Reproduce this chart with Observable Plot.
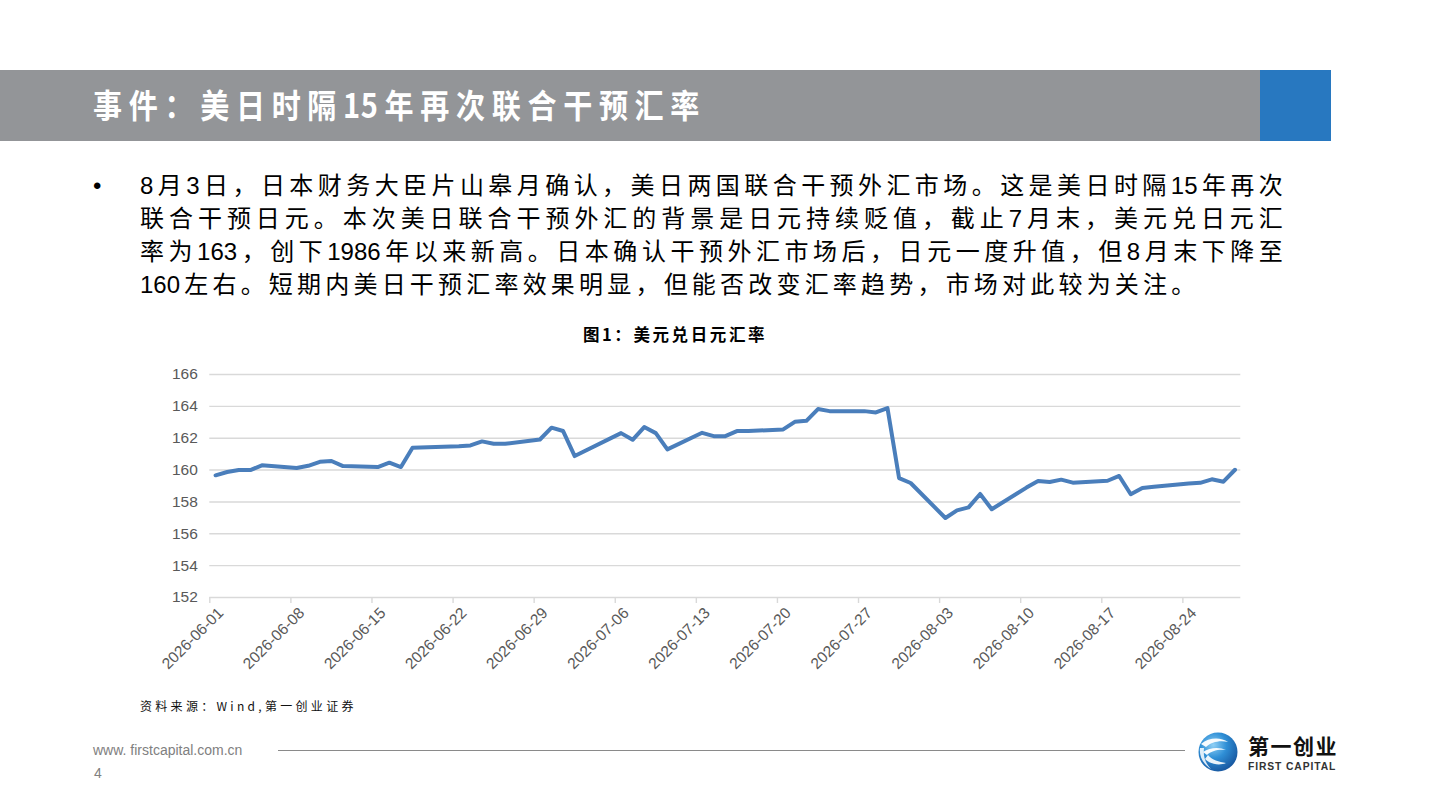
<!DOCTYPE html>
<html>
<head>
<meta charset="utf-8">
<script src="https://cdn.jsdelivr.net/npm/d3@7"></script>
<script src="https://cdn.jsdelivr.net/npm/@observablehq/plot@0.6"></script>
<style>
  html, body { margin:0; padding:0; background:#fff; }
  body { width:1440px; height:810px; position:relative; overflow:hidden; font-family:"Liberation Sans","Noto Sans CJK SC",sans-serif; }
  .abs { position:absolute; }
  .num { letter-spacing:0; }
  #bar { left:0; top:70px; width:1260px; height:71px; background:#939598; }
  #blue { left:1260px; top:70px; width:71px; height:71px; background:#2878C0; }
  #title { left:93px; top:83px; color:#fff; font-family:"Noto Sans CJK SC",sans-serif; font-weight:700; font-size:33px; line-height:42px; letter-spacing:7.6px; white-space:nowrap; transform:scaleX(0.88); transform-origin:left center; }
  #title .num { letter-spacing:0.5px; }
  #bullet { left:93px; top:169px; font-size:24px; line-height:33px; color:#000; }
  #body { left:140px; top:169px; width:1147px; font-family:"Liberation Sans","Noto Sans CJK SC",sans-serif; font-size:24px; line-height:33px; letter-spacing:4.2px; color:#000; }
  #body div { white-space:nowrap; }
  #body div.j { text-align:justify; text-align-last:justify; white-space:normal; }
  #ctitle { left:0; width:1350px; top:322px; text-align:center; font-family:"Noto Sans CJK SC",sans-serif; font-weight:700; font-size:16.5px; letter-spacing:2.6px; color:#000; line-height:24px; }
  #chart { left:0; top:360px; }
  #source { left:140px; top:697px; font-family:"Noto Sans CJK SC","DejaVu Sans",sans-serif; font-size:12px; letter-spacing:3.3px; color:#111; line-height:18px; white-space:nowrap; }
  #url { left:93px; top:741px; font-size:14px; color:#808080; line-height:18px; }
  #page { left:94px; top:764px; font-size:14px; color:#808080; line-height:18px; }
  #rule { left:278px; top:750px; width:907px; height:0; border-top:1.5px solid #8a8a8a; }
  #logo { left:1195px; top:728px; }
</style>
</head>
<body>
<script>
// ---- data ----
const dates = ["2026-06-01","2026-06-02","2026-06-03","2026-06-04","2026-06-05","2026-06-08","2026-06-09","2026-06-10","2026-06-11","2026-06-12","2026-06-15","2026-06-16","2026-06-17","2026-06-18","2026-06-22","2026-06-23","2026-06-24","2026-06-25","2026-06-26","2026-06-29","2026-06-30","2026-07-01","2026-07-02","2026-07-06","2026-07-07","2026-07-08","2026-07-09","2026-07-10","2026-07-13","2026-07-14","2026-07-15","2026-07-16","2026-07-17","2026-07-20","2026-07-21","2026-07-22","2026-07-23","2026-07-24","2026-07-27","2026-07-28","2026-07-29","2026-07-30","2026-07-31","2026-08-03","2026-08-04","2026-08-05","2026-08-06","2026-08-07","2026-08-10","2026-08-11","2026-08-12","2026-08-13","2026-08-14","2026-08-17","2026-08-18","2026-08-19","2026-08-20","2026-08-21","2026-08-24","2026-08-25","2026-08-26","2026-08-27","2026-08-28"];
const usdjpy = [159.67,159.88,160.0,160.0,160.3,160.13,160.27,160.52,160.57,160.25,160.19,160.46,160.19,161.4,161.5,161.55,161.8,161.65,161.65,161.92,162.66,162.45,160.88,162.32,161.9,162.7,162.32,161.3,162.34,162.13,162.13,162.45,162.45,162.55,163.03,163.09,163.83,163.7,163.7,163.62,163.89,159.5,159.19,156.99,157.47,157.66,158.5,157.54,158.9,159.31,159.25,159.4,159.21,159.33,159.63,158.48,158.87,158.95,159.15,159.2,159.42,159.27,160.02];
const xTickLabels = ["2026-06-01","2026-06-08","2026-06-15","2026-06-22","2026-06-29","2026-07-06","2026-07-13","2026-07-20","2026-07-27","2026-08-03","2026-08-10","2026-08-17","2026-08-24"];
const xDomain = ["2026-06-01","2026-08-29"];
const yTicks = [152,154,156,158,160,162,164,166];

const headerTitle = "事件：美日时隔15年再次联合干预汇率";
const bodyLines = [
  "8月3日，日本财务大臣片山皋月确认，美日两国联合干预外汇市场。这是美日时隔15年再次",
  "联合干预日元。本次美日联合干预外汇的背景是日元持续贬值，截止7月末，美元兑日元汇",
  "率为163，创下1986年以来新高。日本确认干预外汇市场后，日元一度升值，但8月末下降至",
  "160左右。短期内美日干预汇率效果明显，但能否改变汇率趋势，市场对此较为关注。"
];
const chartTitle = "图1：美元兑日元汇率";
const sourceText = "资料来源：Wind,第一创业证券";
const urlText = "www. firstcapital.com.cn";
const pageNo = "4";
</script>

<div id="bar" class="abs"></div>
<div id="blue" class="abs"></div>
<div id="title" class="abs"></div>
<div id="bullet" class="abs">•</div>
<div id="body" class="abs"></div>
<div id="ctitle" class="abs"></div>
<div id="chart" class="abs"></div>
<div id="source" class="abs"></div>
<div id="url" class="abs"></div>
<div id="page" class="abs"></div>
<div id="rule" class="abs"></div>
<div id="logo" class="abs">
  <svg width="145" height="50" viewBox="0 0 145 50">
    <defs>
      <radialGradient id="gl" cx="0.38" cy="0.32" r="0.75">
        <stop offset="0" stop-color="#8fd0f5"/>
        <stop offset="0.45" stop-color="#2f8fd6"/>
        <stop offset="1" stop-color="#15519a"/>
      </radialGradient>
    </defs>
    <circle cx="23" cy="24" r="19.5" fill="url(#gl)"/>
    <path d="M6 16 C14 9, 26 9, 33 14 C25 12, 16 14, 11 19 Z" fill="#fff" opacity="0.95"/>
    <path d="M8 24 C15 19, 25 19, 31 22 C23 21, 16 23, 12 27 Z" fill="#fff" opacity="0.95"/>
    <path d="M10 31 C15 36, 24 38, 31 35 C24 34, 17 32, 13 27 Z" fill="#fff" opacity="0.9"/>
    <path d="M5 20 C4 28, 8 36, 16 41 C10 35, 8 28, 9 20 Z" fill="#fff" opacity="0.85"/>
    <text x="53" y="26" font-family="Noto Sans CJK SC" font-weight="700" font-size="21" letter-spacing="1.5" fill="#111">第一创业</text>
    <text x="53" y="42" font-family="Liberation Sans" font-weight="700" font-size="10.3" letter-spacing="0.9" fill="#333">FIRST CAPITAL</text>
  </svg>
</div>

<script>
function fillWithNums(el, text) {
  text.split(/(\d+)/).forEach((part, k) => {
    if (!part) return;
    if (k % 2 === 1) {
      const s = document.createElement("span");
      s.className = "num";
      s.textContent = part.slice(0, -1);
      el.appendChild(s);
      el.appendChild(document.createTextNode(part.slice(-1)));
    } else {
      el.appendChild(document.createTextNode(part));
    }
  });
}
fillWithNums(document.getElementById("title"), headerTitle);
const body = document.getElementById("body");
bodyLines.forEach((t, i) => {
  const d = document.createElement("div");
  fillWithNums(d, t);
  if (i < bodyLines.length - 1) d.className = "j";
  body.appendChild(d);
});
document.getElementById("ctitle").textContent = chartTitle;
document.getElementById("source").textContent = sourceText;
document.getElementById("url").textContent = urlText;
document.getElementById("page").textContent = pageNo;

const parse = d3.utcParse("%Y-%m-%d");
const data = dates.map((d, i) => ({date: d3.utcHour.offset(parse(d), 12), value: usdjpy[i]}));

const chart = Plot.plot({
  width: 1300,
  height: 340,
  marginLeft: 209.3,
  marginRight: 59.7,
  marginTop: 14,
  marginBottom: 103,
  style: {background: "transparent", fontFamily: "'Liberation Sans', sans-serif", fontSize: "15.5px", color: "#595959", overflow: "visible"},
  x: {
    type: "utc",
    domain: xDomain.map(parse),
    ticks: xTickLabels.map(parse),
    tickFormat: d3.utcFormat("%Y-%m-%d"),
    tickRotate: -45,
    tickSize: 6,
    tickPadding: 4,
    label: null
  },
  y: {domain: [152, 166], ticks: yTicks, tickSize: 0, tickPadding: 12, label: null},
  marks: [
    Plot.ruleY(yTicks, {stroke: "#D9D9D9", strokeWidth: 1.4}),
    Plot.line(data, {x: "date", y: "value", stroke: "#4A7EBB", strokeWidth: 4, strokeLinejoin: "round", strokeLinecap: "round"})
  ]
});
document.getElementById("chart").appendChild(chart);
const svg = d3.select(chart);
svg.selectAll('g[aria-label="x-axis tick"]').attr("stroke", "#D9D9D9").selectAll("path").attr("stroke", "#D9D9D9").attr("stroke-width", 1.4);
svg.selectAll('g[aria-label="x-axis tick label"]').each(function() {
  const g = d3.select(this);
  const t = g.attr("transform") || "";
  g.attr("transform", t + " translate(11,3)").attr("font-size", 15.5);
});
</script>
</body>
</html>
